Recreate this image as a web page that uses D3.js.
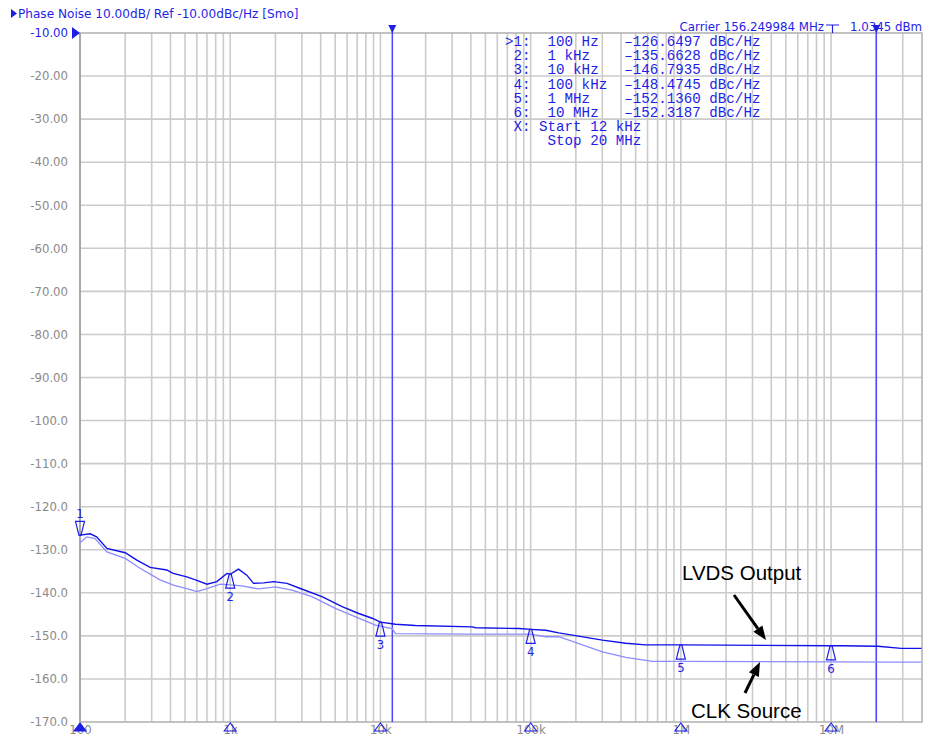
<!DOCTYPE html>
<html>
<head>
<meta charset="utf-8">
<script src="https://cdn.jsdelivr.net/npm/d3@7"></script>
<style>
  html, body { margin: 0; padding: 0; background: #ffffff; }
  svg { display: block; }
</style>
</head>
<body>
<script>
// ---------------- DATA ----------------
const lvdsFreq = [100, 117, 129, 151, 200, 239, 293, 378, 417, 514, 600, 700, 815, 950, 1000, 1136, 1290, 1430, 1670, 1945, 2390, 2930, 4080, 5560, 7170, 8810, 10000, 12600, 17100, 40800, 43000, 83600, 100000, 126000, 154000, 300600, 430000, 584000, 1e6, 1e7, 11.7e6, 20.5e6, 29.3e6, 40e6];
const lvdsDb   = [-126.6, -126.3, -127.0, -129.7, -130.7, -132.4, -134.1, -134.7, -135.5, -136.3, -137.1, -138.0, -137.4, -135.5, -135.7, -134.5, -135.9, -137.8, -137.7, -137.4, -137.8, -139.0, -140.9, -143.2, -144.8, -145.9, -146.8, -147.3, -147.6, -147.9, -148.1, -148.3, -148.5, -148.7, -149.3, -151.0, -151.7, -152.1, -152.1, -152.3, -152.3, -152.4, -152.9, -152.9];

const clkFreq = [100, 111, 126, 151, 200, 251, 341, 419, 514, 600, 700, 858, 1050, 1196, 1540, 2000, 2580, 3500, 5010, 7170, 9260, 11960, 12600, 38800, 83200, 100000, 126000, 154000, 300600, 430000, 647000, 1e6, 26.3e6, 40e6];
const clkDb   = [-128.4, -127.0, -127.4, -130.5, -132.0, -134.3, -137.0, -138.2, -139.0, -139.7, -139.0, -138.0, -138.2, -138.4, -139.1, -138.6, -139.4, -140.9, -143.6, -145.9, -147.5, -148.3, -149.5, -149.6, -149.6, -149.6, -150.2, -150.2, -153.7, -155.0, -155.9, -155.9, -156.1, -156.1];

const markerIds   = ["1", "2", "3", "4", "5", "6"];
const markerFreq  = [100, 1000, 10000, 100000, 1e6, 1e7];
const markerValue = [-126.6497, -135.6628, -146.7935, -148.4745, -152.1360, -152.3187];

const yTickValues = [-10, -20, -30, -40, -50, -60, -70, -80, -90, -100, -110, -120, -130, -140, -150, -160, -170];
const yTickLabels = ["-10.00", "-20.00", "-30.00", "-40.00", "-50.00", "-60.00", "-70.00", "-80.00", "-90.00", "-100.0", "-110.0", "-120.0", "-130.0", "-140.0", "-150.0", "-160.0", "-170.0"];
const xTickValues = [100, 1000, 10000, 100000, 1e6, 1e7];
const xTickLabels = ["100", "1k", "10k", "100k", "1M", "10M"];

const rangeStart = 12000, rangeStop = 20e6;
const titleText = "Phase Noise 10.00dB/ Ref -10.00dBc/Hz [Smo]";
const carrierText = "Carrier 156.249984 MHz";
const powerText = "1.0345 dBm";
const tableRows = [
  ">1:  100 Hz   \u2013126.6497 dBc/Hz",
  " 2:  1 kHz    \u2013135.6628 dBc/Hz",
  " 3:  10 kHz   \u2013146.7935 dBc/Hz",
  " 4:  100 kHz  \u2013148.4745 dBc/Hz",
  " 5:  1 MHz    \u2013152.1360 dBc/Hz",
  " 6:  10 MHz   \u2013152.3187 dBc/Hz",
  " X: Start 12 kHz",
  "     Stop 20 MHz"
];
const annotTop = "LVDS Output";
const annotBottom = "CLK Source";

// ---------------- LAYOUT ----------------
const W = 927, H = 736;
const L = 80, R = 922, T = 33, B = 722;
const blue = "#1e1ee6";
const traceDark = "#1010e8";
const traceLight = "#8c8cff";
const gridCol = "#cbcbcb";
const textGray = "#8a8a8a";
const markerBlue = "#4848ff";

const svg = d3.select("body").append("svg").attr("width", W).attr("height", H)
  .style("font-family", "'DejaVu Sans', Verdana, sans-serif");

const x = d3.scaleLog().domain([100, 40e6]).range([L, 921.5]);
const y = d3.scaleLinear().domain([-170, -10]).range([B, T]);

// grid: vertical lines for every 1..9 x decade
const vGrid = [];
for (let e = 2; e <= 7; e++) {
  for (let m = 1; m <= 9; m++) {
    const f = m * Math.pow(10, e);
    if (f > 100 && f < 40e6) vGrid.push(f);
  }
}
const g = svg.append("g");
g.selectAll("line.vg").data(vGrid).join("line")
  .attr("x1", d => x(d)).attr("x2", d => x(d)).attr("y1", T).attr("y2", B)
  .attr("stroke", gridCol).attr("stroke-width", 1.6);
g.selectAll("line.hg").data(yTickValues.slice(1, -1)).join("line")
  .attr("x1", L).attr("x2", R).attr("y1", d => y(d)).attr("y2", d => y(d))
  .attr("stroke", gridCol).attr("stroke-width", 1.6);
// frame
g.append("rect").attr("x", L).attr("y", T).attr("width", R - L).attr("height", B - T)
  .attr("fill", "none").attr("stroke", "#b4b4b4").attr("stroke-width", 1.6);
g.append("line").attr("x1", L).attr("x2", L).attr("y1", T).attr("y2", B)
  .attr("stroke", "#a0a0a0").attr("stroke-width", 1.6);

// y-axis labels via d3 axis
const yAxis = d3.axisLeft(y).tickValues(yTickValues)
  .tickFormat((d, i) => yTickLabels[i]).tickSize(0).tickPadding(12);
const ya = svg.append("g").attr("transform", `translate(${L},0)`).call(yAxis);
ya.select(".domain").remove();
ya.selectAll("text").attr("fill", (d, i) => i === 0 ? blue : textGray)
  .style("font-size", "11.7px").style("font-family", "'DejaVu Sans', Verdana, sans-serif");

// x-axis labels
const xAxis = d3.axisBottom(x).tickValues(xTickValues)
  .tickFormat((d, i) => xTickLabels[i]).tickSize(0).tickPadding(4);
const xa = svg.append("g").attr("transform", `translate(0,${B})`).call(xAxis);
xa.select(".domain").remove();
xa.selectAll("text").attr("fill", textGray)
  .style("font-size", "11.7px").style("font-family", "'DejaVu Sans', Verdana, sans-serif");

// range (start/stop) vertical lines
[rangeStart, rangeStop].forEach(f => {
  svg.append("line").attr("x1", x(f)).attr("x2", x(f)).attr("y1", 26).attr("y2", B)
    .attr("stroke", markerBlue).attr("stroke-width", 1.5);
  svg.append("path").attr("d", `M${x(f) - 4},25 L${x(f) + 4},25 L${x(f)},33 Z`).attr("fill", blue);
});

// traces
const line = d3.line().x(d => x(d[0])).y(d => y(d[1]));
svg.append("path").datum(d3.zip(clkFreq, clkDb)).attr("d", line)
  .attr("fill", "none").attr("stroke", traceLight).attr("stroke-width", 1.3);
svg.append("path").datum(d3.zip(lvdsFreq, lvdsDb)).attr("d", line)
  .attr("fill", "none").attr("stroke", traceDark).attr("stroke-width", 1.4);

// markers on trace
markerIds.forEach((id, i) => {
  const mx = x(markerFreq[i]), my = y(markerValue[i]);
  if (i === 0) {
    svg.append("path").attr("d", `M${mx - 1},${my} L${mx - 4.5},${my - 14} L${mx + 4.5},${my - 14} L${mx + 1},${my} Z`)
      .attr("fill", "none").attr("stroke", blue).attr("stroke-width", 1.2);
    svg.append("text").attr("x", mx).attr("y", my - 17).attr("text-anchor", "middle")
      .attr("fill", blue).style("font-size", "11.7px").text(id);
  } else {
    svg.append("path").attr("d", `M${mx - 1},${my} L${mx - 4.5},${my + 14} L${mx + 4.5},${my + 14} L${mx + 1},${my} Z`)
      .attr("fill", "none").attr("stroke", blue).attr("stroke-width", 1.2);
    svg.append("text").attr("x", mx).attr("y", my + 27).attr("text-anchor", "middle")
      .attr("fill", blue).style("font-size", "11.7px").text(id);
  }
  // bottom axis marker triangles
  svg.append("path").attr("d", `M${mx},${B + 1} L${mx - 6},${B + 9} L${mx + 6},${B + 9} Z`)
    .attr("fill", i === 0 ? blue : "none").attr("stroke", blue).attr("stroke-width", 1.1);
});

// reference level arrow on left
svg.append("path").attr("d", `M72,${T - 6} L80,${T} L72,${T + 6} Z`).attr("fill", blue);
// title
svg.append("path").attr("d", "M11,9 L17,13.5 L11,18 Z").attr("fill", blue);
svg.append("text").attr("x", 18).attr("y", 18).attr("fill", blue)
  .style("font-size", "12.1px").text(titleText);

// carrier info
svg.append("text").attr("x", 824).attr("y", 31).attr("text-anchor", "end").attr("fill", blue)
  .style("font-size", "11.8px").text(carrierText);
svg.append("path").attr("d", "M826,25 H839 M832.5,25 V33").attr("stroke", blue).attr("stroke-width", 1.2).attr("fill", "none");
svg.append("text").attr("x", 922).attr("y", 31).attr("text-anchor", "end").attr("fill", blue)
  .style("font-size", "11.8px").text(powerText);

// marker table
const tbl = svg.append("text").attr("fill", blue)
  .style("font-family", "'Liberation Mono', 'DejaVu Sans Mono', monospace").style("font-size", "14.2px")
  .attr("xml:space", "preserve");
tableRows.forEach((r, i) => {
  tbl.append("tspan").attr("x", 505).attr("y", 46 + i * 14.2).text(r);
});

// annotations
const ann = svg.append("g").style("font-family", "'Liberation Sans', Arial, sans-serif").style("font-size", "20.5px");
ann.append("text").attr("x", 682).attr("y", 580).attr("fill", "#000").text(annotTop);
ann.append("text").attr("x", 691).attr("y", 718).attr("fill", "#000").text(annotBottom);

function arrow(x1, y1, x2, y2) {
  const a = Math.atan2(y2 - y1, x2 - x1);
  const hl = 14, hw = 5.5;
  const bx = x2 - hl * Math.cos(a), by = y2 - hl * Math.sin(a);
  svg.append("line").attr("x1", x1).attr("y1", y1).attr("x2", bx).attr("y2", by)
    .attr("stroke", "#000").attr("stroke-width", 3);
  const px = -Math.sin(a) * hw, py = Math.cos(a) * hw;
  svg.append("path").attr("d", `M${x2},${y2} L${bx + px},${by + py} L${bx - px},${by - py} Z`).attr("fill", "#000");
}
arrow(734, 595, 766, 640);
arrow(745, 693, 760, 662);
</script>
</body>
</html>
